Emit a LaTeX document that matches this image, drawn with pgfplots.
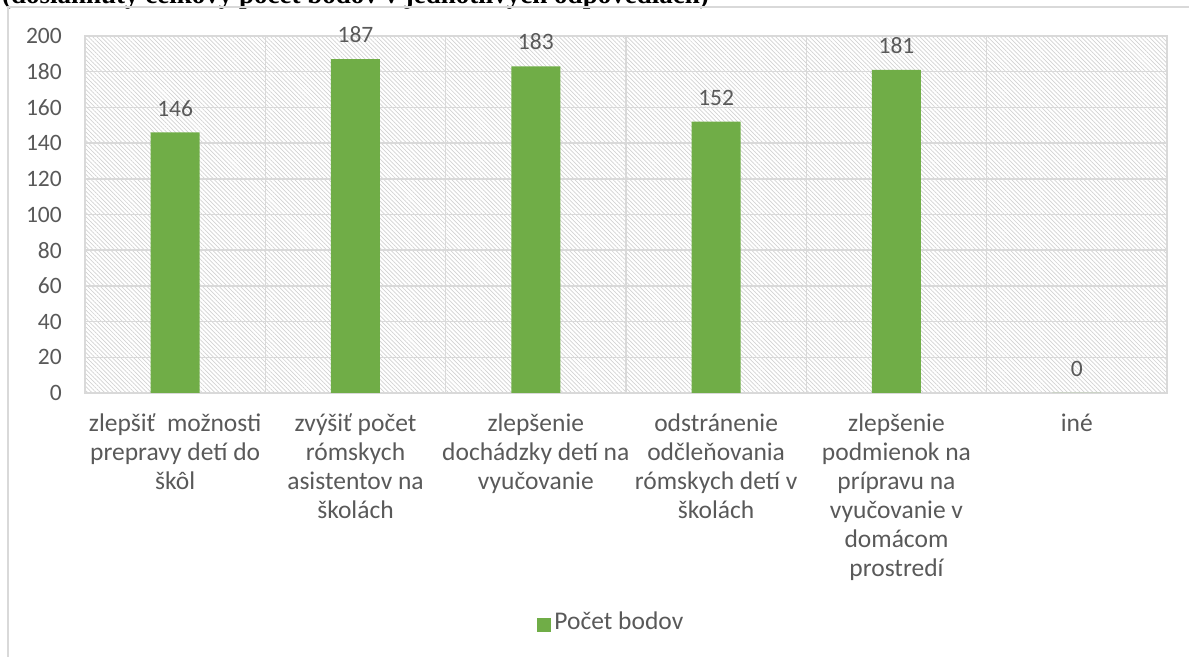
\documentclass[border=0pt]{standalone}
\usepackage{pgfplots}
\pgfplotsset{compat=1.18}
\usetikzlibrary{patterns.meta}
\usepackage{fontspec}
\setmainfont{Carlito}
\newfontfamily\titlefont{Liberation Serif}
\definecolor{barg}{HTML}{70AD47}
\definecolor{txt}{HTML}{595959}
\definecolor{grd}{HTML}{D9D9D9}
\definecolor{hatch}{HTML}{D2D2D2}
\begin{document}
\begin{tikzpicture}[x=1bp,y=1bp]
\useasboundingbox (0,0) rectangle (1189,657);
\begin{scope}
\clip (0,0) rectangle (1189,657);
\node[anchor=base west, inner sep=0pt, font=\titlefont\bfseries\fontsize{27bp}{31bp}\selectfont] at (2,653.5) {(dosiahnutý celkový počet bodov v jednotlivých odpovediach)};
\draw[grd, line width=1.5bp] (8,-5) -- (8,650) -- (1200,650);
\end{scope}
\begin{axis}[
  at={(85bp,264bp)}, anchor=south west,
  scale only axis, width=1082bp, height=357bp,
  xmin=-0.5, xmax=5.5, ymin=0, ymax=200,
  ybar, bar width=49bp,
  clip=false,
  ytick={0,20,...,200},
  xtick={0,...,5},
  minor xtick={0.5,1.5,...,4.5},
  xticklabels={{zlepšiť\ \ možnosti\\prepravy detí do\\škôl},
               {zvýšiť počet\\rómskych\\asistentov na\\školách},
               {zlepšenie\\dochádzky detí na\\vyučovanie},
               {odstránenie\\odčleňovania\\rómskych detí v\\školách},
               {zlepšenie\\podmienok na\\prípravu na\\vyučovanie v\\domácom\\prostredí},
               {iné}},
  /pgf/number format/assume math mode=true,
  ymajorgrids=true, xmajorgrids=false, xminorgrids=true,
  major grid style={grd, line width=1.5bp},
  minor grid style={grd, line width=1.5bp},
  axis line style={grd, line width=1.5bp},
  major tick length=0pt, minor tick length=0pt,
  axis background/.style={pattern={Lines[angle=-45, distance=3bp, line width=0.7bp]}, pattern color=hatch},
  xticklabel style={font=\fontsize{25.5bp}{29bp}\selectfont, text=txt, align=center, anchor=north, inner sep=0pt, yshift=-21bp},
  yticklabel style={font=\fontsize{23.5bp}{28bp}\selectfont, text=txt, anchor=east, inner sep=0pt, xshift=-23bp},
  nodes near coords,
  every node near coord/.append style={font=\fontsize{23.5bp}{28bp}\selectfont, text=txt, inner sep=0pt, yshift=16bp},
  legend style={at={(0.487,-0.64)}, anchor=center, draw=none, fill=none, font=\fontsize{25.5bp}{29bp}\selectfont, text=txt, inner sep=0pt, nodes={inner sep=3bp}},
  legend image code/.code={\fill[barg] (-1bp,-11bp) rectangle (13bp,3bp);},
]
\addplot[fill=barg, draw=none] coordinates {(0,146) (1,187) (2,183) (3,152) (4,181) (5,0)};
\addlegendentry{Počet bodov}
\end{axis}
\end{tikzpicture}
\end{document}
